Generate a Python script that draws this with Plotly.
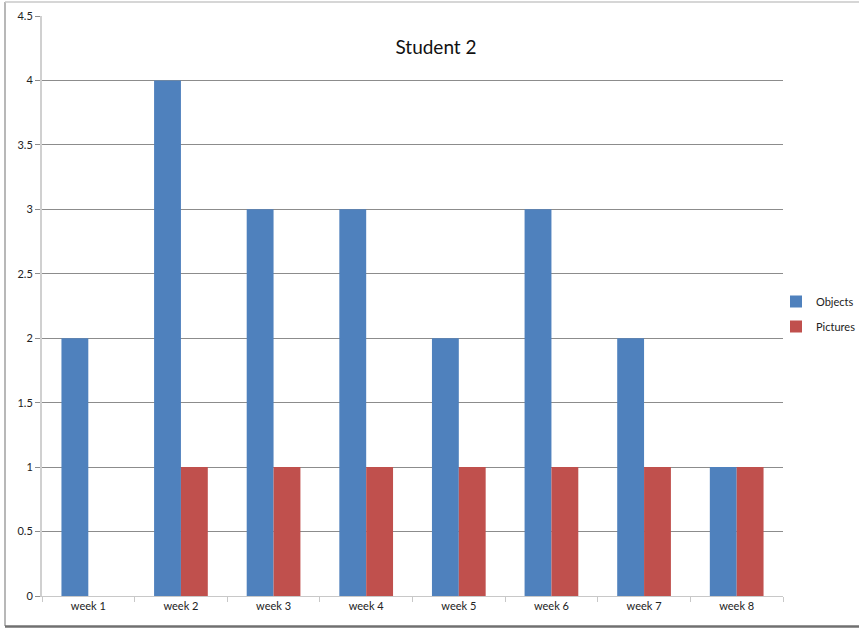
import plotly.graph_objects as go

weeks = ["week 1", "week 2", "week 3", "week 4", "week 5", "week 6", "week 7", "week 8"]
objects = [2, 4, 3, 3, 2, 3, 2, 1]
pictures = [0, 1, 1, 1, 1, 1, 1, 1]
y_ticks = [0, 0.5, 1, 1.5, 2, 2.5, 3, 3.5, 4, 4.5]
y_tick_labels = ["0", "0.5", "1", "1.5", "2", "2.5", "3", "3.5", "4", "4.5"]

W, H = 859, 629
L, R, T, B = 42, 76, 16, 33
pw, ph = W - L - R, H - T - B

font = "Lato, Open Sans, Liberation Sans, sans-serif"

fig = go.Figure()
fig.add_trace(go.Bar(x=weeks, y=objects, name="Objects", legendgroup="a",
                     marker=dict(color="#4F81BD", line=dict(width=0))))
fig.add_trace(go.Bar(x=weeks, y=pictures, name="Pictures", legendgroup="b",
                     marker=dict(color="#C0504D", line=dict(width=0))))

def px_x(x):
    return (x - L) / pw

def px_y(y):
    return (H - B - y) / ph

fig.update_layout(
    width=W, height=H,
    margin=dict(l=L, r=R, t=T, b=B, autoexpand=False),
    paper_bgcolor="white", plot_bgcolor="white",
    barmode="group", bargap=0.42, bargroupgap=0,
    font=dict(family=font, size=11, color="#222"),
    title=dict(text="Student 2", x=436 / W, xref="container", xanchor="center",
               y=1 - 47 / H, yref="container", yanchor="middle",
               font=dict(family=font, size=19, color="#111")),
    legend=dict(x=px_x(776), xanchor="left", y=px_y(314), yanchor="middle",
                font=dict(family=font, size=11, color="#222"),
                bgcolor="rgba(0,0,0,0)", itemwidth=30, tracegroupgap=6,
                traceorder="grouped"),
    xaxis=dict(showgrid=False, showline=True, linecolor="#C8C8C8", linewidth=1,
               ticks="outside", tickson="boundaries", ticklen=5, tickcolor="#C8C8C8",
               tickfont=dict(size=11, color="#222"), automargin=False),
    yaxis=dict(range=[0, 4.5], tickvals=y_ticks, ticktext=y_tick_labels,
               showgrid=True, gridcolor="#8C8C8C", gridwidth=1,
               showline=True, linecolor="#D0D0D0", linewidth=2,
               ticks="outside", ticklen=5, tickcolor="#8C8C8C",
               zeroline=False, tickfont=dict(size=11, color="#222"), automargin=False),
    shapes=[
        dict(type="line", xref="paper", yref="paper", x0=px_x(5), x1=px_x(5), y0=px_y(2), y1=px_y(626),
             line=dict(color="#A0A0A0", width=1.5)),
        dict(type="line", xref="paper", yref="paper", x0=px_x(5), x1=px_x(859), y0=px_y(2), y1=px_y(2),
             line=dict(color="#C8C8C8", width=1.5)),
        dict(type="line", xref="paper", yref="paper", x0=px_x(5), x1=px_x(859), y0=px_y(626.5), y1=px_y(626.5),
             line=dict(color="#707070", width=2.5)),
    ],
)

fig.write_html("out.html", config={"displayModeBar": False},
               post_script="document.body.style.margin='0';")
